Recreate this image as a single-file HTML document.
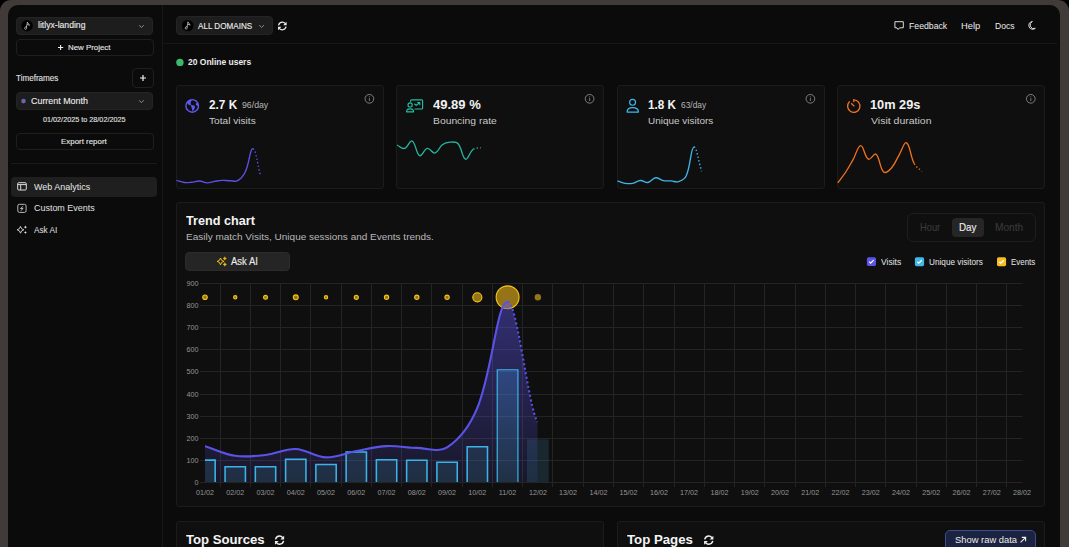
<!DOCTYPE html>
<html><head><meta charset="utf-8">
<style>
*{box-sizing:border-box;margin:0;padding:0}
html,body{width:1069px;height:547px;overflow:hidden;background:#000;font-family:"Liberation Sans",sans-serif;color:#e8e8e8}
.abs{position:absolute}
#frame{position:absolute;left:0;top:0;width:1069px;height:600px;background:#403b39;border-radius:11px 11px 0 0}
#inner{position:absolute;left:8px;top:5px;width:1052px;height:600px;background:#0b0b0b;border-radius:10px 10px 0 0;overflow:hidden}
.t{position:absolute;white-space:nowrap;line-height:1;transform-origin:0 0}
.sel{position:absolute;background:#1d1d1d;border:1px solid #242424;border-radius:4px}
.btn{position:absolute;border:1px solid #1f1f1f;border-radius:4px}
.card{position:absolute;background:#0f0f0f;border:1px solid #1c1c1c;border-radius:3px}
svg.full{position:absolute;left:0;top:0;overflow:visible}
</style></head><body>
<div id="frame"></div>
<div id="inner"></div>
<div class="abs" style="left:162px;top:5px;width:1px;height:560px;background:#171717"></div>
<div class="abs" style="left:163px;top:43px;width:894px;height:1px;background:#171717"></div>

<!-- sidebar boxes -->
<div class="sel" style="left:16px;top:17px;width:137px;height:18px"></div>
<div class="btn" style="left:16px;top:39px;width:137.8px;height:17px"></div>
<div class="btn" style="left:132px;top:68px;width:22px;height:20px;border-radius:4px"></div>
<div class="sel" style="left:16px;top:92px;width:137px;height:18px"></div>
<div class="btn" style="left:16px;top:133px;width:137.8px;height:17px"></div>
<div class="abs" style="left:11px;top:163px;width:146px;height:1px;background:#1a1a1a"></div>
<div class="abs" style="left:11px;top:177px;width:146px;height:19.5px;background:#1f1f1f;border-radius:4px"></div>

<!-- header boxes -->
<div class="sel" style="left:176px;top:16px;width:97px;height:19px"></div>

<!-- cards -->
<div class="card" style="left:176px;top:85px;width:208px;height:104px"></div>
<div class="card" style="left:396px;top:85px;width:208px;height:104px"></div>
<div class="card" style="left:617px;top:85px;width:208px;height:104px"></div>
<div class="card" style="left:837px;top:85px;width:208px;height:104px"></div>

<svg class="abs" style="left:0;top:0" width="1069" height="547" viewBox="0 0 1069 547">
<defs><clipPath id="c1"><rect x="176" y="130" width="208" height="59"/></clipPath>
<clipPath id="c2"><rect x="397" y="130" width="207" height="59"/></clipPath>
<clipPath id="c3"><rect x="617" y="130" width="208" height="59"/></clipPath>
<clipPath id="c4"><rect x="837" y="130" width="208" height="59"/></clipPath></defs>
<g clip-path="url(#c1)"><path d="M176.50 180.34 C179.56 181.19 181.03 182.07 184.14 182.46 C187.14 182.84 188.75 182.57 191.78 182.27 C194.86 181.97 196.38 180.86 199.42 180.97 C202.50 181.08 203.99 182.71 207.06 182.80 C210.10 182.89 211.63 181.90 214.70 181.40 C217.75 180.91 219.27 180.48 222.34 180.34 C225.38 180.21 226.92 180.67 229.98 180.73 C233.03 180.79 235.19 182.03 237.62 180.63 C241.30 178.52 243.30 176.06 245.26 171.96 C249.41 163.32 250.05 148.10 252.90 148.80" fill="none" stroke="#5b51e6" stroke-width="1.35"/><path d="M252.90 148.80 C256.16 149.60 257.48 164.94 260.54 175.70" fill="none" stroke="#5b51e6" stroke-width="1.4" stroke-dasharray="1.4 2.2"/></g>
<g clip-path="url(#c2)"><path d="M396.80 145.00 C399.86 146.36 401.75 149.10 404.44 148.40 C407.86 147.50 409.69 139.86 412.08 141.00 C415.80 142.78 415.99 153.89 419.72 155.70 C422.10 156.85 424.05 148.96 427.36 148.40 C430.17 147.92 432.32 153.78 435.00 153.10 C438.43 152.22 439.03 147.07 442.64 144.50 C445.14 142.71 447.18 142.40 450.28 142.20 C453.29 142.00 456.04 141.41 457.92 143.50 C462.15 148.21 462.00 157.85 465.56 159.20 C468.11 160.17 469.43 152.11 473.20 149.30" fill="none" stroke="#26b5a0" stroke-width="1.35"/><path d="M473.20 149.30 C475.55 147.55 477.78 148.40 480.84 147.80" fill="none" stroke="#26b5a0" stroke-width="1.4" stroke-dasharray="1.4 2.2"/></g>
<g clip-path="url(#c3)"><path d="M617.50 180.83 C620.56 181.82 622.01 182.79 625.14 183.30 C628.12 183.78 629.82 183.84 632.78 183.30 C635.93 182.72 637.32 180.67 640.42 180.50 C643.43 180.34 645.20 182.99 648.06 182.48 C651.31 181.90 652.50 178.17 655.70 177.79 C658.61 177.44 660.18 180.02 663.34 180.67 C666.30 181.27 667.93 180.72 670.98 180.91 C674.04 181.11 675.91 182.56 678.62 181.65 C682.02 180.52 684.77 179.19 686.26 175.81 C690.88 165.37 690.60 148.10 693.90 147.10" fill="none" stroke="#3fb5e6" stroke-width="1.35"/><path d="M693.90 147.10 C696.71 146.25 698.48 161.56 701.54 171.20" fill="none" stroke="#3fb5e6" stroke-width="1.4" stroke-dasharray="1.4 2.2"/></g>
<g clip-path="url(#c4)"><path d="M837.80 182.80 C840.86 178.68 842.62 176.78 845.44 172.50 C848.73 167.50 850.12 164.81 853.08 159.60 C856.23 154.05 857.63 145.68 860.72 145.60 C863.74 145.52 864.50 157.03 868.36 159.20 C870.62 160.47 874.04 152.56 876.00 154.20 C880.15 157.68 879.40 168.11 883.64 172.00 C885.51 173.71 889.06 170.62 891.28 168.20 C895.18 163.94 895.83 160.44 898.92 155.30 C901.94 150.28 904.12 141.49 906.56 142.80 C910.23 144.77 910.12 155.86 914.20 163.50" fill="none" stroke="#f0701f" stroke-width="1.35"/><path d="M914.20 163.50 C916.23 167.30 918.78 168.24 921.84 171.40" fill="none" stroke="#f0701f" stroke-width="1.4" stroke-dasharray="1.4 2.2"/></g>
</svg>

<!-- trend card -->
<div class="card" style="left:176px;top:202px;width:869px;height:305px"></div>
<div class="abs" style="left:185px;top:252px;width:105px;height:19px;background:#252525;border:1px solid #2b2b2b;border-radius:4px"></div>
<div class="abs" style="left:907px;top:213px;width:129px;height:28.5px;border:1px solid #1e1e1e;border-radius:6px"></div>
<div class="abs" style="left:952px;top:218px;width:31.5px;height:19px;background:#262626;border-radius:4px"></div>

<svg class="abs" style="left:0;top:0" width="1069" height="547" viewBox="0 0 1069 547">
<defs>
<linearGradient id="areag" x1="0" y1="283" x2="0" y2="482" gradientUnits="userSpaceOnUse">
<stop offset="0" stop-color="rgb(91,83,230)" stop-opacity="0.5"/><stop offset="1" stop-color="rgb(91,83,230)" stop-opacity="0.12"/></linearGradient>
<linearGradient id="barg" x1="0" y1="369" x2="0" y2="482" gradientUnits="userSpaceOnUse">
<stop offset="0" stop-color="rgb(60,150,230)" stop-opacity="0.3"/><stop offset="1" stop-color="rgb(60,140,170)" stop-opacity="0.22"/></linearGradient>
<clipPath id="ca"><rect x="205" y="200" width="820" height="282"/></clipPath>
</defs>
<g stroke="#242424" stroke-width="1"><line x1="200" y1="482.5" x2="1022.5" y2="482.5"/><line x1="200" y1="460.5" x2="1022.5" y2="460.5"/><line x1="200" y1="438.5" x2="1022.5" y2="438.5"/><line x1="200" y1="416.5" x2="1022.5" y2="416.5"/><line x1="200" y1="394.5" x2="1022.5" y2="394.5"/><line x1="200" y1="371.5" x2="1022.5" y2="371.5"/><line x1="200" y1="349.5" x2="1022.5" y2="349.5"/><line x1="200" y1="327.5" x2="1022.5" y2="327.5"/><line x1="200" y1="305.5" x2="1022.5" y2="305.5"/><line x1="200" y1="283.5" x2="1022.5" y2="283.5"/><line x1="220.5" y1="283" x2="220.5" y2="487"/><line x1="250.5" y1="283" x2="250.5" y2="487"/><line x1="280.5" y1="283" x2="280.5" y2="487"/><line x1="310.5" y1="283" x2="310.5" y2="487"/><line x1="341.5" y1="283" x2="341.5" y2="487"/><line x1="371.5" y1="283" x2="371.5" y2="487"/><line x1="401.5" y1="283" x2="401.5" y2="487"/><line x1="431.5" y1="283" x2="431.5" y2="487"/><line x1="462.5" y1="283" x2="462.5" y2="487"/><line x1="492.5" y1="283" x2="492.5" y2="487"/><line x1="522.5" y1="283" x2="522.5" y2="487"/><line x1="552.5" y1="283" x2="552.5" y2="487"/><line x1="583.5" y1="283" x2="583.5" y2="487"/><line x1="613.5" y1="283" x2="613.5" y2="487"/><line x1="643.5" y1="283" x2="643.5" y2="487"/><line x1="674.5" y1="283" x2="674.5" y2="487"/><line x1="704.5" y1="283" x2="704.5" y2="487"/><line x1="734.5" y1="283" x2="734.5" y2="487"/><line x1="764.5" y1="283" x2="764.5" y2="487"/><line x1="795.5" y1="283" x2="795.5" y2="487"/><line x1="825.5" y1="283" x2="825.5" y2="487"/><line x1="855.5" y1="283" x2="855.5" y2="487"/><line x1="885.5" y1="283" x2="885.5" y2="487"/><line x1="916.5" y1="283" x2="916.5" y2="487"/><line x1="946.5" y1="283" x2="946.5" y2="487"/><line x1="976.5" y1="283" x2="976.5" y2="487"/><line x1="1006.5" y1="283" x2="1006.5" y2="487"/></g>
<g font-family="Liberation Sans, sans-serif" font-size="7.2" fill="#959595"><text x="198.5" y="485.0" text-anchor="end">0</text><text x="198.5" y="462.9" text-anchor="end">100</text><text x="198.5" y="440.8" text-anchor="end">200</text><text x="198.5" y="418.6" text-anchor="end">300</text><text x="198.5" y="396.5" text-anchor="end">400</text><text x="198.5" y="374.4" text-anchor="end">500</text><text x="198.5" y="352.2" text-anchor="end">600</text><text x="198.5" y="330.1" text-anchor="end">700</text><text x="198.5" y="308.0" text-anchor="end">800</text><text x="198.5" y="285.9" text-anchor="end">900</text><text x="205.0" y="495" text-anchor="middle">01/02</text><text x="235.3" y="495" text-anchor="middle">02/02</text><text x="265.5" y="495" text-anchor="middle">03/02</text><text x="295.8" y="495" text-anchor="middle">04/02</text><text x="326.0" y="495" text-anchor="middle">05/02</text><text x="356.3" y="495" text-anchor="middle">06/02</text><text x="386.6" y="495" text-anchor="middle">07/02</text><text x="416.8" y="495" text-anchor="middle">08/02</text><text x="447.1" y="495" text-anchor="middle">09/02</text><text x="477.3" y="495" text-anchor="middle">10/02</text><text x="507.6" y="495" text-anchor="middle">11/02</text><text x="537.9" y="495" text-anchor="middle">12/02</text><text x="568.1" y="495" text-anchor="middle">13/02</text><text x="598.4" y="495" text-anchor="middle">14/02</text><text x="628.6" y="495" text-anchor="middle">15/02</text><text x="658.9" y="495" text-anchor="middle">16/02</text><text x="689.1" y="495" text-anchor="middle">17/02</text><text x="719.4" y="495" text-anchor="middle">18/02</text><text x="749.7" y="495" text-anchor="middle">19/02</text><text x="779.9" y="495" text-anchor="middle">20/02</text><text x="810.2" y="495" text-anchor="middle">21/02</text><text x="840.4" y="495" text-anchor="middle">22/02</text><text x="870.7" y="495" text-anchor="middle">23/02</text><text x="901.0" y="495" text-anchor="middle">24/02</text><text x="931.2" y="495" text-anchor="middle">25/02</text><text x="961.5" y="495" text-anchor="middle">26/02</text><text x="991.7" y="495" text-anchor="middle">27/02</text><text x="1022.0" y="495" text-anchor="middle">28/02</text></g>
<g><circle cx="205.00" cy="297.3" r="2.25" fill="rgba(245,190,30,0.58)" stroke="#f5c518" stroke-width="1.1"/><circle cx="235.26" cy="297.3" r="1.65" fill="rgba(245,190,30,0.58)" stroke="#f5c518" stroke-width="1.1"/><circle cx="265.52" cy="297.3" r="1.95" fill="rgba(245,190,30,0.58)" stroke="#f5c518" stroke-width="1.1"/><circle cx="295.78" cy="297.3" r="2.45" fill="rgba(245,190,30,0.58)" stroke="#f5c518" stroke-width="1.1"/><circle cx="326.04" cy="297.3" r="1.65" fill="rgba(245,190,30,0.58)" stroke="#f5c518" stroke-width="1.1"/><circle cx="356.30" cy="297.3" r="2.05" fill="rgba(245,190,30,0.58)" stroke="#f5c518" stroke-width="1.1"/><circle cx="386.56" cy="297.3" r="2.15" fill="rgba(245,190,30,0.58)" stroke="#f5c518" stroke-width="1.1"/><circle cx="416.81" cy="297.3" r="2.15" fill="rgba(245,190,30,0.58)" stroke="#f5c518" stroke-width="1.1"/><circle cx="447.07" cy="297.3" r="2.15" fill="rgba(245,190,30,0.58)" stroke="#f5c518" stroke-width="1.1"/><circle cx="477.33" cy="297.3" r="4.55" fill="rgba(245,190,30,0.58)" stroke="#f5c518" stroke-width="1.1"/><circle cx="507.59" cy="297.3" r="11.45" fill="rgba(245,190,30,0.58)" stroke="#f5c518" stroke-width="1.1"/><circle cx="537.85" cy="297.3" r="3.20" fill="rgba(245,190,30,0.58)"/></g>
<g clip-path="url(#ca)">
<path d="M205.00 446.14 C215.89 449.62 224.10 454.20 235.26 455.82 C245.89 457.37 254.73 456.16 265.52 454.94 C276.51 453.70 284.98 448.57 295.78 449.00 C306.77 449.44 315.06 457.00 326.04 457.36 C336.85 457.71 345.35 453.01 356.30 450.98 C367.14 448.97 375.60 446.70 386.56 446.14 C397.39 445.59 405.91 447.66 416.81 447.90 C427.70 448.14 438.84 452.91 447.07 447.46 C460.63 438.49 470.54 424.18 477.33 407.86 C492.33 371.83 497.37 299.51 507.59 302.04 C516.58 297.98 528.63 409.20 537.50 421.90 L537.5 482.00 L205.00 482.00 Z" fill="url(#areag)"/>
<g><path d="M194.83 483.00 V460.11 H215.18 V483.00" fill="rgba(60,140,170,0.2)" stroke="#3ab4e8" stroke-width="1.55"/><path d="M225.08 483.00 V466.71 H245.43 V483.00" fill="rgba(60,140,170,0.2)" stroke="#3ab4e8" stroke-width="1.55"/><path d="M255.34 483.00 V466.71 H275.69 V483.00" fill="rgba(60,140,170,0.2)" stroke="#3ab4e8" stroke-width="1.55"/><path d="M285.60 483.00 V459.23 H305.95 V483.00" fill="rgba(60,140,170,0.2)" stroke="#3ab4e8" stroke-width="1.55"/><path d="M315.86 483.00 V464.51 H336.21 V483.00" fill="rgba(60,140,170,0.2)" stroke="#3ab4e8" stroke-width="1.55"/><path d="M346.12 483.00 V451.97 H366.47 V483.00" fill="rgba(60,140,170,0.2)" stroke="#3ab4e8" stroke-width="1.55"/><path d="M376.38 483.00 V459.67 H396.73 V483.00" fill="rgba(60,140,170,0.2)" stroke="#3ab4e8" stroke-width="1.55"/><path d="M406.64 483.00 V460.33 H426.99 V483.00" fill="rgba(60,140,170,0.2)" stroke="#3ab4e8" stroke-width="1.55"/><path d="M436.90 483.00 V462.31 H457.25 V483.00" fill="rgba(60,140,170,0.2)" stroke="#3ab4e8" stroke-width="1.55"/><path d="M467.16 483.00 V446.69 H487.51 V483.00" fill="rgba(60,140,170,0.2)" stroke="#3ab4e8" stroke-width="1.55"/><path d="M497.24 483.00 V369.74 H517.94 V483.00" fill="url(#barg)" stroke="#3ab4e8" stroke-width="1.20"/><rect x="526.90" y="439.32" width="21.90" height="42.68" fill="rgba(60,140,170,0.2)"/></g>
<path d="M205.00 446.14 C215.89 449.62 224.10 454.20 235.26 455.82 C245.89 457.37 254.73 456.16 265.52 454.94 C276.51 453.70 284.98 448.57 295.78 449.00 C306.77 449.44 315.06 457.00 326.04 457.36 C336.85 457.71 345.35 453.01 356.30 450.98 C367.14 448.97 375.60 446.70 386.56 446.14 C397.39 445.59 405.91 447.66 416.81 447.90 C427.70 448.14 438.84 452.91 447.07 447.46 C460.63 438.49 470.54 424.18 477.33 407.86 C492.33 371.83 497.37 299.51 507.59 302.04" fill="none" stroke="#5b53e8" stroke-width="2.1" stroke-linecap="round"/>
<path d="M507.59 302.04 C516.58 297.98 528.63 409.20 537.50 421.90" fill="none" stroke="#5b53e8" stroke-width="2.1" stroke-dasharray="2 2.6"/>
</g>
</svg>

<!-- bottom cards -->
<div class="card" style="left:176px;top:521px;width:428px;height:60px"></div>
<div class="card" style="left:617px;top:521px;width:428px;height:60px"></div>
<div class="abs" style="left:945px;top:530px;width:91px;height:24px;background:#1b2340;border:1px solid #3b4f8c;border-radius:5px"></div>

<svg class="full" width="1069" height="547" viewBox="0 0 1069 547">
<!-- project logo circles -->
<circle cx="27.1" cy="25.8" r="5.7" fill="#000"/>
<g transform="translate(0 0)"><path d="M27.4 22.3 L29.6 25.3 L27.6 24.6 M27.4 22.4 L26.6 26.5 Q24.6 27 24.5 28.3 Q24.8 29.5 25.9 29.4 Q27.1 28.8 26.6 26.5" fill="none" stroke="#dcdcdc" stroke-width="0.7" stroke-linejoin="round" stroke-linecap="round"/></g>
<circle cx="187.7" cy="25.6" r="5.7" fill="#000"/>
<g transform="translate(160.6 -0.2)"><path d="M27.4 22.3 L29.6 25.3 L27.6 24.6 M27.4 22.4 L26.6 26.5 Q24.6 27 24.5 28.3 Q24.8 29.5 25.9 29.4 Q27.1 28.8 26.6 26.5" fill="none" stroke="#dcdcdc" stroke-width="0.7" stroke-linejoin="round" stroke-linecap="round"/></g>
<!-- chevrons -->
<path d="M139.1 25.2 L141.4 27.5 L143.7 25.2" fill="none" stroke="#9aa2bc" stroke-width="0.85"/>
<path d="M139.1 100.3 L141.4 102.6 L143.7 100.3" fill="none" stroke="#9aa2bc" stroke-width="0.85"/>
<path d="M259.2 25.0 L261.6 27.5 L264.0 25.0" fill="none" stroke="#8c94b8" stroke-width="0.85"/>
<!-- plus icons -->
<path d="M58 47.5 H63.2 M60.6 44.9 V50.1" stroke="#f0f0f0" stroke-width="1.1"/>
<path d="M140 78 H146 M143 75 V81" stroke="#f2f2f2" stroke-width="1.2"/>
<!-- timeframe dot -->
<circle cx="23.5" cy="101.1" r="2.3" fill="#6c62b0"/>
<!-- sidebar nav icons -->
<rect x="17.7" y="182.7" width="8.6" height="7.3" rx="1" fill="none" stroke="#dadada" stroke-width="1"/>
<path d="M17.7 184.6 H26.3 M20.7 184.6 V190" stroke="#dadada" stroke-width="1"/>
<rect x="17.8" y="204.3" width="8.3" height="8.1" rx="1.6" fill="none" stroke="#b8b8b8" stroke-width="1"/>
<path d="M23.1 206.1 L20.2 208.7 H22.4 L20.6 211 L23.4 208.3 H21.3 Z" fill="#e8e8e8" stroke="#e8e8e8" stroke-width="0.3" stroke-linejoin="round"/>
<path d="M20.5 226.4 Q21 229.3 23.9 229.8 Q21 230.3 20.5 233.2 Q20 230.3 17.1 229.8 Q20 229.3 20.5 226.4 Z" fill="none" stroke="#dadada" stroke-width="0.9" stroke-linejoin="round"/>
<path d="M25.4 225.6 Q25.6 227 27 227.2 Q25.6 227.4 25.4 228.8 Q25.2 227.4 23.8 227.2 Q25.2 227 25.4 225.6 Z" fill="#dadada"/>
<path d="M25.4 230.9 Q25.6 232.3 27 232.5 Q25.6 232.7 25.4 234.1 Q25.2 232.7 23.8 232.5 Q25.2 232.3 25.4 230.9 Z" fill="#dadada"/>
<!-- refresh header -->
<g transform="translate(277.3 21)" fill="none" stroke="#ececec" stroke-width="1.25">
<path d="M1.2 4.3 C1.7 2.4 3.2 1.2 5 1.2 C6.3 1.2 7.3 1.8 8 2.7"/>
<path d="M8.8 5.7 C8.3 7.6 6.8 8.8 5 8.8 C3.7 8.8 2.7 8.2 2 7.3"/>
</g>
<g transform="translate(277.3 21)" fill="#ececec">
<path d="M9.3 0.8 V4.3 H5.8 Z"/><path d="M0.7 9.2 V5.7 H4.2 Z"/>
</g>
<!-- feedback -->
<path d="M894.9 21.7 H903.3 V27.7 L899.8 27.9 L897.9 29.4 L897 27.9 L894.9 27.7 Z" fill="none" stroke="#e6e6e6" stroke-width="0.95" stroke-linejoin="round"/>
<!-- moon -->
<path d="M1032.4 21.5 A3.9 3.9 0 1 0 1035.3 28.3 A3.4 3.4 0 0 1 1032.4 21.5 Z" fill="none" stroke="#e6e6e6" stroke-width="0.95" stroke-linejoin="round"/>
<!-- online dot -->
<circle cx="179.9" cy="62.4" r="3.7" fill="#3bb96a"/>
<!-- globe -->
<circle cx="192.2" cy="105.9" r="6.3" fill="none" stroke="#5e58ee" stroke-width="1.4"/>
<path d="M186.8 102.6 Q188.6 99.8 191.8 99.5 L191.2 101.4 Q189.6 102.8 191.4 104.6 L189.3 105.2 Q187.8 104.2 186.8 102.6 Z" fill="#5e58ee"/>
<path d="M190.6 105.0 L194.4 105.6 Q195.6 106.9 194.6 108.6 L192.8 111.6 Q191.8 109.4 191.6 107.6 Z" fill="#5e58ee"/>
<path d="M195.9 103.3 Q197.6 102.6 198.8 104.3 L198.7 106.2 Q196.9 106.2 195.9 104.8 Z" fill="#5e58ee"/>
<!-- bouncing icon -->
<g fill="none" stroke="#23bfa0" stroke-width="1.15" stroke-linejoin="round" stroke-linecap="round">
<path d="M410.6 101.3 V100.8 Q410.6 99.8 411.6 99.8 H421.8 Q422.6 99.8 422.6 100.8 V108.2 Q422.6 109 421.8 109 H415"/>
<path d="M414.6 104 L416.3 105.4 L419.4 102.8"/>
<path d="M417.7 102.5 H419.8 V104.6"/>
<circle cx="410.1" cy="104.9" r="2.1"/>
<path d="M406.6 111.8 Q406.6 108.9 410.1 108.9 Q413.6 108.9 413.6 111.8 Z"/>
</g>
<!-- user icon -->
<g fill="none" stroke="#3cb9ea" stroke-width="1.2" stroke-linejoin="round">
<circle cx="632.6" cy="102.3" r="2.95"/>
<path d="M627.1 112.1 Q627.1 107.7 632.7 107.7 Q638.4 107.7 638.4 112.1 Z"/>
</g>
<!-- timer -->
<g fill="none" stroke="#f07225" stroke-width="1.3" stroke-linecap="round">
<path d="M853.8 99.9 A6.2 6.2 0 1 1 849.4 101.7"/>
<path d="M853.8 100 V101.6"/>
<path d="M851.4 103.6 L854 105.9"/>
</g>
<!-- info icons -->
<g fill="none" stroke="#8a8a8a" stroke-width="0.9">
<circle cx="369.4" cy="98.8" r="4.35"/><circle cx="589.6" cy="98.8" r="4.35"/><circle cx="810.4" cy="98.8" r="4.35"/><circle cx="1030.8" cy="98.8" r="4.35"/>
<path d="M369.4 98.1 V101 M589.6 98.1 V101 M810.4 98.1 V101 M1030.8 98.1 V101" stroke-width="0.85"/>
</g>
<g fill="#8a8a8a"><circle cx="369.4" cy="96.8" r="0.5"/><circle cx="589.6" cy="96.8" r="0.5"/><circle cx="810.4" cy="96.8" r="0.5"/><circle cx="1030.8" cy="96.8" r="0.5"/></g>
<!-- ask ai sparkles -->
<path d="M220.5 258 Q221 261 224 261.4 Q221 261.8 220.5 264.8 Q220 261.8 217.1 261.4 Q220 261 220.5 258 Z" fill="none" stroke="#f5c518" stroke-width="1.0" stroke-linejoin="round"/>
<path d="M224.8 256.7 Q225 258.2 226.6 258.5 Q225 258.8 224.8 260.3 Q224.6 258.8 223 258.5 Q224.6 258.2 224.8 256.7 Z" fill="#f5c518" stroke="#f5c518" stroke-width="0.4"/>
<path d="M224.8 262.6 Q225 264.1 226.6 264.4 Q225 264.7 224.8 266.2 Q224.6 264.7 223 264.4 Q224.6 264.1 224.8 262.6 Z" fill="#f5c518" stroke="#f5c518" stroke-width="0.4"/>
<!-- legend checkboxes -->
<rect x="866.9" y="257.2" width="9.1" height="8.7" rx="1.6" fill="#5a55e8"/>
<path d="M869.2 261.7 L870.6 263.1 L873.7 260.1" fill="none" stroke="#fff" stroke-width="1.2"/>
<rect x="914.9" y="257.2" width="9.2" height="9" rx="1.6" fill="#40b8ea"/>
<path d="M917.3 261.8 L918.7 263.2 L921.8 260.2" fill="none" stroke="#fff" stroke-width="1.2"/>
<rect x="997" y="257.2" width="9.1" height="9" rx="1.6" fill="#f5be22"/>
<path d="M999.3 261.8 L1000.7 263.2 L1003.8 260.2" fill="none" stroke="#fff" stroke-width="1.2"/>
<!-- refresh bottom -->
<g transform="translate(274.2 534.8) scale(1.07)" fill="none" stroke="#f0f0f0" stroke-width="1.35">
<path d="M1.2 4.3 C1.7 2.4 3.2 1.2 5 1.2 C6.3 1.2 7.3 1.8 8 2.7"/>
<path d="M8.8 5.7 C8.3 7.6 6.8 8.8 5 8.8 C3.7 8.8 2.7 8.2 2 7.3"/>
</g>
<g transform="translate(274.2 534.8) scale(1.07)" fill="#f0f0f0"><path d="M9.3 0.8 V4.3 H5.8 Z"/><path d="M0.7 9.2 V5.7 H4.2 Z"/></g>
<g transform="translate(703.4 534.8) scale(1.07)" fill="none" stroke="#f0f0f0" stroke-width="1.35">
<path d="M1.2 4.3 C1.7 2.4 3.2 1.2 5 1.2 C6.3 1.2 7.3 1.8 8 2.7"/>
<path d="M8.8 5.7 C8.3 7.6 6.8 8.8 5 8.8 C3.7 8.8 2.7 8.2 2 7.3"/>
</g>
<g transform="translate(703.4 534.8) scale(1.07)" fill="#f0f0f0"><path d="M9.3 0.8 V4.3 H5.8 Z"/><path d="M0.7 9.2 V5.7 H4.2 Z"/></g>
<!-- arrow -->
<path d="M1020.6 542.4 L1025.6 537.4 M1021.8 537.4 H1025.6 V541.2" fill="none" stroke="#f0f0f0" stroke-width="1.1"/>
</svg>
<div class="t" id="t0" style="left:38.00px;top:21.15px;font-size:8.80px;color:#ececec;-webkit-text-stroke:0.12px #ececec;transform:scaleX(0.9798);">litlyx-landing</div>
<div class="t" id="t1" style="left:67.50px;top:43.95px;font-size:7.85px;color:#e6e6e6;-webkit-text-stroke:0.12px #e6e6e6;transform:scaleX(1.0049);">New Project</div>
<div class="t" id="t2" style="left:16.00px;top:73.62px;font-size:8.72px;color:#e0e0e0;-webkit-text-stroke:0.12px #e0e0e0;transform:scaleX(0.9278);">Timeframes</div>
<div class="t" id="t3" style="left:30.50px;top:96.00px;font-size:9.45px;color:#ececec;-webkit-text-stroke:0.12px #ececec;transform:scaleX(0.9436);">Current Month</div>
<div class="t" id="t4" style="left:42.50px;top:115.68px;font-size:7.70px;color:#e0e0e0;-webkit-text-stroke:0.12px #e0e0e0;transform:scaleX(0.9417);">01/02/2025 to 28/02/2025</div>
<div class="t" id="t5" style="left:60.50px;top:137.63px;font-size:7.99px;color:#e6e6e6;-webkit-text-stroke:0.12px #e6e6e6;transform:scaleX(0.9917);">Export report</div>
<div class="t" id="t6" style="left:33.50px;top:182.85px;font-size:9.16px;color:#e8e8e8;transform:scaleX(0.9794);">Web Analytics</div>
<div class="t" id="t7" style="left:33.50px;top:203.89px;font-size:8.87px;color:#e0e0e0;transform:scaleX(1.0100);">Custom Events</div>
<div class="t" id="t8" style="left:33.50px;top:226.05px;font-size:9.16px;color:#e0e0e0;transform:scaleX(0.9001);">Ask AI</div>
<div class="t" id="t9" style="left:198.00px;top:21.94px;font-size:8.58px;color:#ececec;-webkit-text-stroke:0.12px #ececec;transform:scaleX(0.9449);">ALL DOMAINS</div>
<div class="t" id="t10" style="left:188.00px;top:57.86px;font-size:8.43px;color:#ececec;font-weight:bold;transform:scaleX(1.0064);">20 Online users</div>
<div class="t" id="t11" style="left:908.50px;top:21.15px;font-size:9.74px;color:#ececec;transform:scaleX(0.8931);">Feedback</div>
<div class="t" id="t12" style="left:961.00px;top:21.15px;font-size:9.74px;color:#ececec;transform:scaleX(0.9609);">Help</div>
<div class="t" id="t13" style="left:994.50px;top:21.15px;font-size:9.74px;color:#ececec;transform:scaleX(0.8826);">Docs</div>
<div class="t" id="t14" style="left:208.50px;top:97.95px;font-size:13.52px;color:#f2f2f2;font-weight:bold;transform:scaleX(0.8731);">2.7 K</div>
<div class="t" id="t15" style="left:241.50px;top:101.71px;font-size:8.14px;color:#b5b5b5;transform:scaleX(1.0758);">96/day</div>
<div class="t" id="t16" style="left:208.50px;top:116.33px;font-size:9.88px;color:#c8c8c8;transform:scaleX(1.0263);">Total visits</div>
<div class="t" id="t17" style="left:432.50px;top:97.95px;font-size:13.52px;color:#f2f2f2;font-weight:bold;transform:scaleX(0.9641);">49.89 %</div>
<div class="t" id="t18" style="left:432.50px;top:116.33px;font-size:9.88px;color:#c8c8c8;transform:scaleX(1.0460);">Bouncing rate</div>
<div class="t" id="t19" style="left:648.00px;top:97.95px;font-size:13.52px;color:#f2f2f2;font-weight:bold;transform:scaleX(0.8626);">1.8 K</div>
<div class="t" id="t20" style="left:681.00px;top:101.71px;font-size:8.14px;color:#b5b5b5;transform:scaleX(1.0325);">63/day</div>
<div class="t" id="t21" style="left:647.50px;top:116.33px;font-size:9.88px;color:#c8c8c8;transform:scaleX(1.0092);">Unique visitors</div>
<div class="t" id="t22" style="left:870.00px;top:97.95px;font-size:13.52px;color:#f2f2f2;font-weight:bold;transform:scaleX(0.9434);">10m 29s</div>
<div class="t" id="t23" style="left:870.50px;top:116.33px;font-size:9.88px;color:#c8c8c8;transform:scaleX(1.0634);">Visit duration</div>
<div class="t" id="t24" style="left:186.00px;top:215.05px;font-size:12.94px;color:#f4f4f4;font-weight:bold;transform:scaleX(0.9775);">Trend chart</div>
<div class="t" id="t25" style="left:186.00px;top:231.75px;font-size:9.74px;color:#b8b8b8;transform:scaleX(1.0257);">Easily match Visits, Unique sessions and Events trends.</div>
<div class="t" id="t26" style="left:231.00px;top:256.91px;font-size:10.03px;color:#ececec;-webkit-text-stroke:0.12px #ececec;transform:scaleX(0.9505);">Ask AI</div>
<div class="t" id="t27" style="left:919.50px;top:223.39px;font-size:10.17px;color:#3a3a3a;-webkit-text-stroke:0.12px #3a3a3a;transform:scaleX(0.9189);">Hour</div>
<div class="t" id="t28" style="left:959.00px;top:223.39px;font-size:10.17px;color:#ececec;-webkit-text-stroke:0.12px #ececec;transform:scaleX(0.9686);">Day</div>
<div class="t" id="t29" style="left:995.00px;top:223.39px;font-size:10.17px;color:#3a3a3a;-webkit-text-stroke:0.12px #3a3a3a;">Month</div>
<div class="t" id="t30" style="left:880.50px;top:257.77px;font-size:9.01px;color:#e6e6e6;transform:scaleX(0.9460);">Visits</div>
<div class="t" id="t31" style="left:929.00px;top:257.77px;font-size:9.01px;color:#e6e6e6;transform:scaleX(0.9120);">Unique visitors</div>
<div class="t" id="t32" style="left:1011.00px;top:257.77px;font-size:9.01px;color:#e6e6e6;transform:scaleX(0.8791);">Events</div>
<div class="t" id="t33" style="left:185.50px;top:534.37px;font-size:12.79px;color:#f4f4f4;font-weight:bold;transform:scaleX(1.0290);">Top Sources</div>
<div class="t" id="t34" style="left:627.00px;top:534.37px;font-size:12.79px;color:#f4f4f4;font-weight:bold;transform:scaleX(1.0345);">Top Pages</div>
<div class="t" id="t35" style="left:954.50px;top:535.15px;font-size:9.74px;color:#ececec;transform:scaleX(0.9632);">Show raw data</div>
</body></html>
